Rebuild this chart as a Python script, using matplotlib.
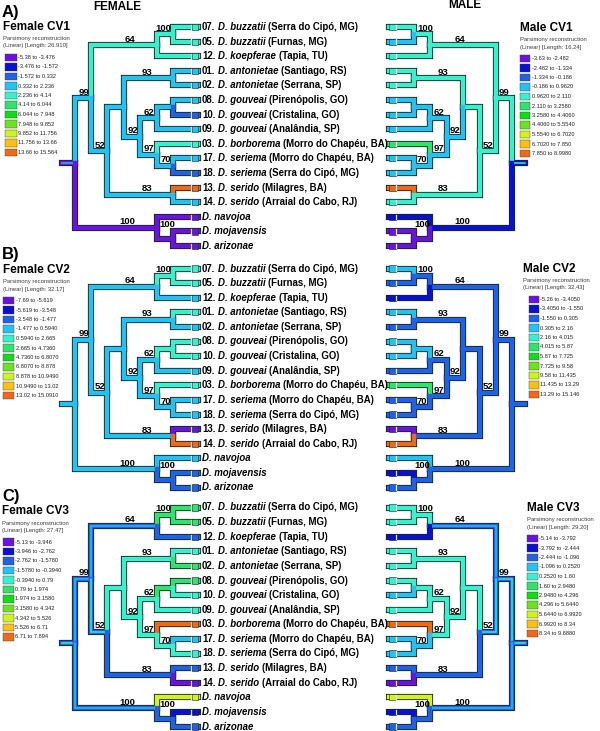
import matplotlib
matplotlib.use("Agg")
import matplotlib.pyplot as plt
from matplotlib.patches import Rectangle

plt.rcParams['font.family'] = ['Liberation Sans', 'DejaVu Sans']

# ------------------------------------------------------------------ DATA
TAXA = [
    ("07.", "D. buzzatii", "(Serra do Cipó, MG)"),
    ("05.", "D. buzzatii", "(Furnas, MG)"),
    ("12.", "D. koepferae", "(Tapia, TU)"),
    ("01.", "D. antonietae", "(Santiago, RS)"),
    ("02.", "D. antonietae", "(Serrana, SP)"),
    ("08.", "D. gouveai", "(Pirenópolis, GO)"),
    ("10.", "D. gouveai", "(Cristalina, GO)"),
    ("09.", "D. gouveai", "(Analândia, SP)"),
    ("03.", "D. borborema", "(Morro do Chapéu, BA)"),
    ("17.", "D. seriema", "(Morro do Chapéu, BA)"),
    ("18.", "D. seriema", "(Serra do Cipó, MG)"),
    ("13.", "D. serido", "(Milagres, BA)"),
    ("14.", "D. serido", "(Arraial do Cabo, RJ)"),
    ("", "D. navojoa", ""),
    ("", "D. mojavensis", ""),
    ("", "D. arizonae", ""),
]
TIPS = ['t07', 't05', 't12', 't01', 't02', 't08', 't10', 't09', 't03',
        't17', 't18', 't13', 't14', 'tnav', 'tmoj', 'tari']

# tree topology (child lists) and bootstrap support
CHILDREN = {
    'root': ['n99', 'nOut'],
    'n99': ['n64', 'n52'],
    'n64': ['n100a', 't12'],
    'n100a': ['t07', 't05'],
    'n52': ['nJ', 'n83'],
    'nJ': ['n93', 'n92'],
    'n93': ['t01', 't02'],
    'n92': ['n62', 'n97'],
    'n62': ['n0810', 't09'],
    'n0810': ['t08', 't10'],
    'n97': ['t03', 'n70'],
    'n70': ['t17', 't18'],
    'n83': ['t13', 't14'],
    'nOut': ['tnav', 'nMA'],
    'nMA': ['tmoj', 'tari'],
}
SUPPORT = {'n100a': 100, 'n64': 64, 'n99': 99, 'n93': 93, 'n62': 62,
           'n92': 92, 'n97': 97, 'n70': 70, 'n52': 52, 'n83': 83,
           'nOut': 100, 'nMA': 100}

# reconstructed state class of each branch (index into PALETTE),
# a pair = equivocal branch (outer, inner)
BRANCHES = ['stub', 'n99', 'n64', 'n100a', 't07', 't05', 't12',
            'n52', 'nJ', 'n93', 't01', 't02',
            'n92', 'n62', 'n0810', 't08', 't10', 't09',
            'n97', 't03', 'n70', 't17', 't18',
            'n83', 't13', 't14',
            'nOut', 'tnav', 'nMA', 'tmoj', 'tari']
F_CV1 = [(0, 3), 3, 4, 4, 4, 4, 4,
         3, 3, 3, 3, 3,
         3, 3, 3, 3, 2, 3,
         3, 4, 3, 3, 2,
         3, 10, 3,
         0, 0, 0, 0, 0]
M_CV1 = [(1, 4), 4, 4, 4, 4, 3, 4,
         4, 4, 4, 4, 4,
         3, 3, 3, 3, 3, 3,
         3, 5, 3, 3, 3,
         4, 10, 4,
         1, 1, 0, 0, 0]
F_CV2 = [3, 3, 3, 4, 4, 4, 3,
         3, 3, 3, 4, 3,
         3, 3, 4, 4, 4, 3,
         3, 4, 3, 3, 3,
         3, 0, 10,
         3, 3, 2, 2, 2]
M_CV2 = [2, 2, 2, 2, 3, 2, 1,
         2, 2, 2, 3, 2,
         2, 2, 3, 3, 3, 2,
         2, 5, 2, 2, 2,
         2, 0, 10,
         2, 3, 2, 1, 2]
F_CV3 = [(2, 4), (2, 3), (2, 3), 5, 5, 5, 2,
         (2, 4), 4, 4, 4, 5,
         4, 4, 5, 5, 4, 4,
         4, 10, 4, 3, 4,
         2, 2, 0,
         (2, 3), 8, 2, 1, 2]
M_CV3 = [(2, 4), (2, 4), (2, 3), 4, 4, 4, 1,
         (2, 4), 4, 4, 4, 4,
         4, 4, 4, 4, 3, 4,
         4, 10, 3, 3, 3,
         2, 2, 0,
         (2, 3), 8, 2, 1, 2]

PALETTE = ['#6a12e2', '#0810d2', '#1f62e6', '#22c2f2', '#36f2cc', '#2fe46a',
           '#0ede12', '#6ee21e', '#d2f21e', '#fcc012', '#f06a16']

# legend class breaks
F_CV1_BREAKS = ["-5.38", "-3.476", "-1.572", "0.332", "2.236", "4.14", "6.044",
                "7.948", "9.852", "11.756", "13.66", "15.564"]
M_CV1_BREAKS = ["-3.63", "-2.482", "-1.334", "-0.186", "0.9620", "2.110", "3.2580",
                "4.4060", "5.5540", "6.7020", "7.850", "8.9980"]
F_CV2_BREAKS = ["-7.69", "-5.619", "-3.548", "-1.477", "0.5940", "2.665", "4.7360",
                "6.8070", "8.878", "10.9490", "13.02", "15.0910"]
M_CV2_BREAKS = ["-5.26", "-3.4050", "-1.550", "0.305", "2.16", "4.015", "5.87",
                "7.725", "9.58", "11.435", "13.29", "15.146"]
F_CV3_BREAKS = ["-5.13", "-3.946", "-2.762", "-1.5780", "-0.3940", "0.79", "1.974",
                "3.1580", "4.342", "5.526", "6.71", "7.894"]
M_CV3_BREAKS = ["-5.14", "-3.792", "-2.444", "-1.096", "0.2520", "1.60", "2.9480",
                "4.296", "5.6440", "6.9920", "8.34", "9.6880"]
LENGTHS = {'F1': "26.910", 'M1': "16.24", 'F2': "32.17",
           'M2': "32.43", 'F3': "27.47", 'M3': "29.20"}

# ------------------------------------------------------------------ LAYOUT
W, H = 600, 731
DY = 14.6
F_TIP, M_TIP = 198.0, 389.0
STEP, FIRST = 16.4, 8.6
EDGE = '#1c2626'
PX = 0.72  # points per pixel at dpi 100
LW_OUT, LW_IN, LW_STRIPE = 6.2 * PX, 4.4 * PX, 1.5 * PX
FS_TAXA = 6.9
FS_BOOT = 6.8

fig = plt.figure(figsize=(W / 100, H / 100), dpi=100)
ax = fig.add_axes([0, 0, 1, 1])
ax.set_xlim(0, W)
ax.set_ylim(H, 0)
ax.axis('off')
renderer = fig.canvas.get_renderer()


def depth(n):
    if n not in CHILDREN:
        return 0
    return max(depth(c) for c in CHILDREN[n]) + 1


def node_y(n, y0):
    if n not in CHILDREN:
        return y0 + TIPS.index(n) * DY
    ys = [node_y(c, y0) for c in CHILDREN[n]]
    return sum(ys) / len(ys)


def node_x(n, side):
    d = depth(n)
    off = 0 if d == 0 else FIRST + STEP * d
    return F_TIP - off if side == 'F' else M_TIP + off


def draw_tree(side, states, y0):
    col = dict(zip(BRANCHES, states))
    sgn = -1 if side == 'F' else 1
    segs = []
    rx, ry = node_x('root', side), node_y('root', y0)
    segs.append(([rx, rx + sgn * 13], [ry, ry], col['stub']))
    order = ['root']
    while order:
        p = order.pop(0)
        px, py = node_x(p, side), node_y(p, y0)
        for c in CHILDREN.get(p, []):
            cx, cy = node_x(c, side), node_y(c, y0)
            segs.append(([px, px, cx], [py, cy, cy], col[c]))
            order.append(c)
    for xs, ys, s in segs:
        ax.plot(xs, ys, color=EDGE, lw=LW_OUT, solid_capstyle='projecting',
                solid_joinstyle='miter', zorder=2)
    for i, (xs, ys, s) in enumerate(segs):
        z = 3 + i * 0.01
        if isinstance(s, tuple):
            ax.plot(xs, ys, color=PALETTE[s[0]], lw=LW_IN, solid_capstyle='projecting',
                    solid_joinstyle='miter', zorder=z)
            ax.plot(xs, ys, color=PALETTE[s[1]], lw=LW_STRIPE, solid_capstyle='projecting',
                    solid_joinstyle='miter', zorder=z + 0.005)
        else:
            ax.plot(xs, ys, color=PALETTE[s], lw=LW_IN, solid_capstyle='projecting',
                    solid_joinstyle='miter', zorder=z)
    # tip boxes
    for t in TIPS:
        ty = node_y(t, y0)
        bx = F_TIP - 6.5 if side == 'F' else M_TIP
        ax.add_patch(Rectangle((bx, ty - 3.1), 6.5, 6.2, facecolor=PALETTE[col[t]],
                               edgecolor=EDGE, lw=0.4, zorder=5))
        gx = bx - 0.6 if side == 'F' else bx + 7.1
        ax.plot([gx, gx], [ty - 2.2, ty + 2.2], color='#dde8e8', lw=0.9, zorder=5)
    # bootstrap values
    for n, v in SUPPORT.items():
        x, y = node_x(n, side), node_y(n, y0)
        if side == 'F':
            ha = 'right'
            if n in ('n64', 'n93', 'n83', 'nOut'):
                x -= 21
            elif n == 'nMA':
                x += 2
            else:
                x -= 2
        else:
            ha = 'left'
            if n in ('n64', 'n93', 'n83', 'nOut'):
                x += 24
            elif n == 'nMA':
                x += 0
            else:
                x += 3
        if n == 'nMA':
            y -= 12
        else:
            y -= 3.5
        ax.text(x, y, str(v), ha=ha, va='baseline', fontsize=FS_BOOT,
                fontweight='bold', zorder=8)


def draw_taxa(y0):
    space = 0.278 * FS_TAXA / PX
    for i, (num, sp, loc) in enumerate(TAXA):
        y = y0 + i * DY
        x = 202.0
        for s, st in ((num, 'normal'), (sp, 'italic'), (loc, 'normal')):
            if not s:
                continue
            t = ax.text(x, y, s, ha='left', va='center', fontsize=FS_TAXA,
                        fontweight='bold', fontstyle=st, zorder=8)
            x += t.get_window_extent(renderer).width + space


def draw_legend(x, yt, title, length, breaks, bx, bw):
    ax.text(x, yt, title, ha='left', va='center', fontsize=8.5, fontweight='bold')
    ax.text(x, yt + 11.5, "Parsimony reconstruction", ha='left', va='center',
            fontsize=4.2, color='#3c3c3c')
    ax.text(x, yt + 19, "(Linear) [Length: %s]" % length, ha='left', va='center',
            fontsize=4.2, color='#3c3c3c')
    for k in range(len(breaks) - 1):
        cy = yt + 30.5 + k * 9.5
        ax.add_patch(Rectangle((bx, cy - 3.6), bw, 7.2, facecolor=PALETTE[k],
                               edgecolor='#404040', lw=0.3))
        ax.text(bx + bw + 1.5, cy, "%s to %s" % (breaks[k], breaks[k + 1]),
                ha='left', va='center', fontsize=4.1, color='#202020')


PANELS = [
    ('A)', 27.0, F_CV1, M_CV1, 'Female CV1', 'Male CV1', 'F1', 'M1',
     F_CV1_BREAKS, M_CV1_BREAKS),
    ('B)', 268.5, F_CV2, M_CV2, 'Female CV2', 'Male CV2', 'F2', 'M2',
     F_CV2_BREAKS, M_CV2_BREAKS),
    ('C)', 507.5, F_CV3, M_CV3, 'Female CV3', 'Male CV3', 'F3', 'M3',
     F_CV3_BREAKS, M_CV3_BREAKS),
]
LEG_POS = [((3, 27, 5, 12), (520, 28, 520, 10)),
           ((3, 270, 3, 11), (523, 269, 529, 9.5)),
           ((2, 511.5, 3, 10.5), (527, 508, 527, 10.5))]
LABEL_Y = [12, 254, 496]

for (lab, y0, fs, ms, ft, mt, fl, ml, fb, mb), (fp, mp), ly in zip(PANELS, LEG_POS, LABEL_Y):
    ax.text(2, ly, lab, ha='left', va='center', fontsize=12, fontweight='bold')
    draw_tree('F', fs, y0)
    draw_tree('M', ms, y0)
    draw_taxa(y0)
    draw_legend(fp[0], fp[1], ft, LENGTHS[fl], fb, fp[2], fp[3])
    draw_legend(mp[0], mp[1], mt, LENGTHS[ml], mb, mp[2], mp[3])

ax.text(117, 7, "FEMALE", ha='center', va='center', fontsize=8.5, fontweight='bold')
ax.text(465, 5, "MALE", ha='center', va='center', fontsize=8.5, fontweight='bold')

fig.savefig('out.png', dpi=100)
